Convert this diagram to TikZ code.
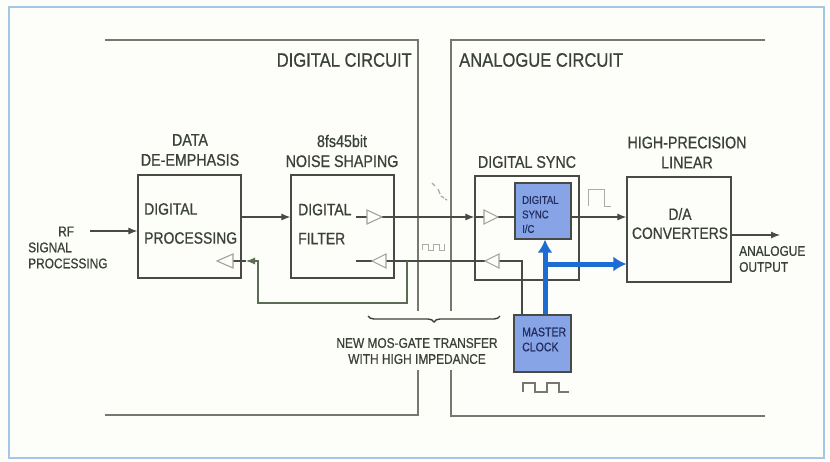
\documentclass[tikz,border=0pt]{standalone}
\usepackage{fontspec}
\setmainfont{Liberation Sans}[FakeStretch=0.85,FakeBold=0.7]
\usetikzlibrary{arrows.meta,decorations.pathreplacing,calc}
\definecolor{txt}{RGB}{58,66,56}
\definecolor{wirec}{RGB}{72,74,70}
\definecolor{fbc}{RGB}{92,108,84}
\definecolor{frm}{RGB}{118,120,112}
\definecolor{trc}{RGB}{160,164,156}
\definecolor{bluefill}{RGB}{135,165,230}
\definecolor{bluearr}{RGB}{28,108,212}
\definecolor{borderc}{RGB}{165,198,232}
\definecolor{paper}{RGB}{253,253,249}
\definecolor{wavec}{RGB}{170,172,166}
\definecolor{navy}{RGB}{35,45,95}
\newcommand\myfbig{\fontsize{19.5}{22}\selectfont}
\newcommand\myfhd{\fontsize{16.8}{20}\selectfont}
\newcommand\myfin{\fontsize{16.4}{29}\selectfont}
\newcommand\myfsm{\fontsize{14}{16}\selectfont}
\newcommand\myftn{\fontsize{11.2}{14.5}\selectfont}
\begin{document}
\begin{tikzpicture}[x=1pt,y=-1pt,
  lab/.style={text=txt, inner sep=0pt},
  box/.style={draw=wirec, line width=1.2pt, inner sep=0pt},
  bbox/.style={draw=wirec, line width=1.2pt, fill=bluefill, inner sep=0pt},
  wire/.style={draw=wirec, line width=1.1pt},
  arr/.style={wire, -{Latex[length=9pt,width=7pt]}},
  blu/.style={draw=bluearr, line width=5pt, -{Latex[length=13pt,width=15pt]}},
  frame/.style={draw=frm, line width=1.4pt},
  trig/.style={draw=trc, line width=1.1pt, fill=paper},
  wave/.style={draw=wavec, line width=1pt}]
\useasboundingbox (0,0) rectangle (830,461);
\fill[paper] (0,0) rectangle (830,461);
\draw[borderc, line width=1.5pt] (9,7) rectangle (824,458);

% frames
\draw[frame] (105,40) -- (418,40) -- (418,311);
\draw[frame] (418,370) -- (418,415) -- (105,415);
\draw[frame] (765,40) -- (451,40) -- (451,311);
\draw[frame] (451,370) -- (451,416) -- (765,416);
\node[lab, font=\myfbig, anchor=east] (dc) at (412,60) {DIGITAL CIRCUIT};
\node[lab, font=\myfbig, anchor=west] (ac) at (459,60) {ANALOGUE CIRCUIT};

% boxes
\node[box, minimum width=103pt, minimum height=103pt] (dep) at (189.5,226.5) {};
\node[box, minimum width=103pt, minimum height=103pt] (flt) at (342.5,226.5) {};
\node[box, minimum width=104pt, minimum height=104pt] (sync) at (527,228) {};
\node[box, minimum width=104pt, minimum height=105pt] (da) at (679,229.5) {};
\node[bbox, minimum width=56pt, minimum height=56pt] (ic) at (543,211) {};
\node[bbox, minimum width=57pt, minimum height=57pt] (clk) at (542.5,343.5) {};

% labels
\node[lab, font=\myfhd, align=center] (depl) at (190,150) {DATA\\DE-EMPHASIS};
\node[lab, font=\myfin, align=left, anchor=west] (dept) at (144,223.5) {DIGITAL\\PROCESSING};
\node[lab, font=\myfhd, align=center] (fltl) at (342,151) {8fs45bit\\NOISE SHAPING};
\node[lab, font=\myfin, align=left, anchor=west] (fltt) at (298,224) {DIGITAL\\FILTER};
\node[lab, font=\myfhd] (syncl) at (527,162) {DIGITAL SYNC};
\node[lab, font=\myfhd, align=center] (dal) at (687,152.5) {HIGH-PRECISION\\LINEAR};
\node[lab, font=\fontsize{16.3}{19}\selectfont, align=center] (dat) at (680,223.5) {D/A\\CONVERTERS};
\node[lab, font=\myftn, text=navy, align=left, anchor=west] (ict) at (522,214.5) {DIGITAL\\SYNC\\I/C};
\node[lab, font=\fontsize{12.4}{15}\selectfont, text=navy, align=left, anchor=west] (clkt) at (522,339.5) {MASTER\\CLOCK};
\node[lab, font=\myfsm, align=left, anchor=west] (rft) at (28,247.5) {\hspace*{30pt}RF\\SIGNAL\\PROCESSING};
\node[lab, font=\myfsm, align=left, anchor=west] (outt) at (739,259) {ANALOGUE\\OUTPUT};
\node[lab, font=\myfsm, align=center] (most) at (417,351) {NEW MOS-GATE TRANSFER\\WITH HIGH IMPEDANCE};

% brace
\draw[draw=txt, line width=1.4pt, decorate, decoration={brace, amplitude=6pt}] (500,316) -- (368,316);

% triangle coordinates
\coordinate (t1b) at (367,217); \coordinate (t1a) at (382,217);
\coordinate (t2b) at (484,217); \coordinate (t2a) at (498,217);
\coordinate (t4a) at (372,261); \coordinate (t4b) at (386,261);
\coordinate (t3a) at (485,261); \coordinate (t3b) at (499,261);
\coordinate (t5a) at (217,261); \coordinate (t5b) at (233,261);

% wires
\coordinate (rf) at (90,231);
\draw[arr] (rf) -- (rf -| dep.west);
\draw[arr] (dep.east |- t1b) -- (flt.west |- t1b);
\coordinate (f1) at (356,217);
\draw[wire] (f1) -- (t1b);
\draw[arr] (t1a) -- (t1a -| sync.west);
\draw[wire] (t1a -| sync.west) -- (t2b);
\draw[wire] (t2a) -- (t2a -| ic.west);
\draw[arr] (t2a -| ic.east) -- (t2a -| da.west);
\coordinate (out) at (780,235);
\draw[arr] (out -| da.east) -- (out);

\coordinate (f2) at (356,261);
\draw[wire] (t3a) -- (t4b);
\draw[wire] (t4a) -- (f2);
\coordinate (ck) at (522,261);
\draw[wire] (t3b) -- (ck) -- (ck |- clk.north);
\coordinate (fb1) at (407,261);
\coordinate (fbt) at (246,261);
\draw[arr, draw=fbc] (fb1) -- (407,303) -- (258,303) -- (258,261) -- (fbt);
\draw[wire] (fbt) -- (t5b);

% triangles
\draw[trig] (t1a) -- ++(-15,-7) -- ++(0,14) -- cycle;
\draw[trig] (t2a) -- ++(-14,-7) -- ++(0,14) -- cycle;
\draw[trig] (t4a) -- ++(14,-7) -- ++(0,14) -- cycle;
\draw[trig] (t3a) -- ++(14,-7) -- ++(0,14) -- cycle;
\draw[trig] (t5a) -- ++(16,-7) -- ++(0,14) -- cycle;

% blue bus
\coordinate (bb) at (545,264);
\draw[blu] (clk.north -| bb) -- (ic.south -| bb);
\draw[blu] (bb) -- (bb -| da.west);

% waveforms
\draw[wave] (422,250) -- (422,244) -- (428,244) -- (428,250) -- (433,250) -- (433,244) -- (439,244) -- (439,250) -- (444,250) -- (444,244);
\draw[wave, line width=1.3pt] (432,183) -- (435,186) (438,189) -- (440,194) (441,196) -- (444,198) (445,199) -- (447,200);
\draw[wave] (588,206) -- (588,189) -- (604,189) -- (604,206) -- (611,206);
\draw[draw=frm, line width=1.4pt] (523,392) -- (523,383) -- (535,383) -- (535,392) -- (547,392) -- (547,383) -- (559,383) -- (559,392) -- (569,392);
\end{tikzpicture}
\end{document}
